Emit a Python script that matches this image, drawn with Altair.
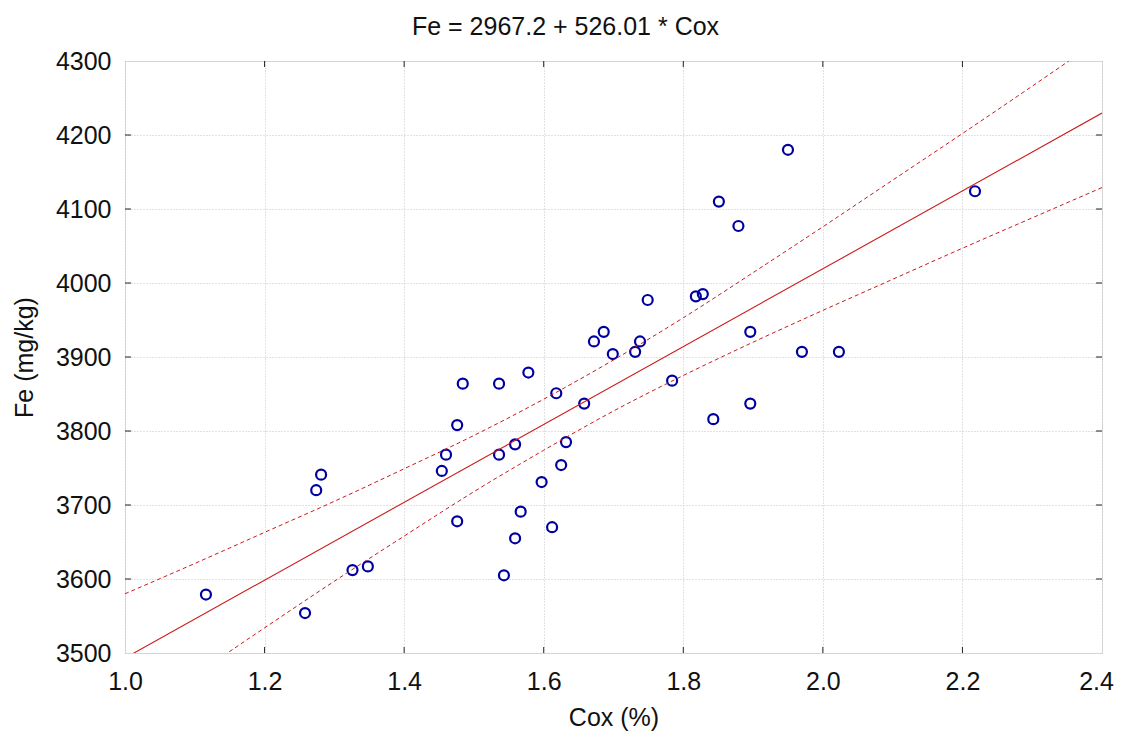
import altair as alt
import pandas as pd

cox = [1.116, 1.258, 1.274, 1.281, 1.326, 1.348, 1.454, 1.460, 1.476, 1.476,
       1.484, 1.536, 1.536, 1.543, 1.559, 1.559, 1.567, 1.578, 1.597, 1.612,
       1.618, 1.658, 1.784, 1.843, 1.896, 1.632, 1.625, 1.950, 1.851, 1.879,
       2.218, 1.818, 1.828, 1.749, 1.672, 1.686, 1.699, 1.731, 1.738, 1.896,
       1.970, 2.023]
fe = [3579, 3554, 3720, 3741, 3612, 3617, 3746, 3768, 3808, 3678,
      3864, 3864, 3768, 3605, 3782, 3655, 3691, 3879, 3731, 3670,
      3851, 3837, 3868, 3816, 3837, 3785, 3754, 4180, 4110, 4077,
      4124, 3982, 3985, 3977, 3921, 3934, 3904, 3907, 3921, 3934,
      3907, 3907]

# Regression line (from the title equation)
intercept = 2967.2
slope = 526.01
fit_x = [1.0, 2.4]

# 95% confidence band
band_x = [1.0, 1.1, 1.2, 1.3, 1.4, 1.5, 1.6, 1.7, 1.8, 1.9, 2.0, 2.1, 2.2, 2.3, 2.4]
band_upper = [3580, 3621, 3663, 3705, 3749, 3794, 3843, 3896, 3953, 4014, 4076, 4139, 4202, 4266, 4331]
band_lower = [3406, 3470, 3534, 3597, 3658, 3718, 3774, 3827, 3875, 3920, 3963, 4005, 4047, 4088, 4129]

x_ticks = [1.0, 1.2, 1.4, 1.6, 1.8, 2.0, 2.2, 2.4]
y_ticks = [3500, 3600, 3700, 3800, 3900, 4000, 4100, 4200, 4300]
x_inner = [1.2, 1.4, 1.6, 1.8, 2.0, 2.2]
y_inner = [3600, 3700, 3800, 3900, 4000, 4100, 4200]

W, H = 977, 592
FONT = "Liberation Sans"
FS = 25

pts = pd.DataFrame({"x": cox, "y": fe})
fit = pd.DataFrame({"x": fit_x, "y": [intercept + slope * v for v in fit_x]})
band = pd.DataFrame({"x": band_x, "up": band_upper, "lo": band_lower})
xt = pd.DataFrame({"x": x_inner})
yt = pd.DataFrame({"y": y_inner})

xs = alt.Scale(domain=[1.0, 2.4], nice=False, zero=False)
ys = alt.Scale(domain=[3500, 4300], nice=False, zero=False)

GRID = "#c4c4c4"
x_axis = alt.Axis(values=x_ticks, format=".1f", title="Cox (%)", grid=True,
                  gridDash=[1, 2], gridColor=GRID, gridWidth=1,
                  domain=False, ticks=False, labelPadding=16, labelFlush=False,
                  labelOffset={"condition": {"test": "datum.value > 2.35", "value": -6}, "value": 0},
                  labelFont=FONT, labelFontSize=FS, labelColor="#111",
                  titleFont=FONT, titleFontSize=FS, titleFontWeight="normal",
                  titleColor="#111", titleY=72, titleBaseline="alphabetic")
y_axis = alt.Axis(values=y_ticks, format="d", title="Fe (mg/kg)", grid=True,
                  gridDash=[1, 2], gridColor=GRID, gridWidth=1,
                  domain=False, ticks=False, labelPadding=14, labelFlush=False,
                  labelFont=FONT, labelFontSize=FS, labelColor="#111",
                  titleFont=FONT, titleFontSize=FS, titleFontWeight="normal",
                  titleColor="#111", titleX=-93, titleY=H / 2,
                  titleBaseline="alphabetic", titleAlign="center", titleAngle=270)

X = alt.X("x:Q", scale=xs, axis=x_axis)
Y = alt.Y("y:Q", scale=ys, axis=y_axis)

points = alt.Chart(pts).mark_point(
    shape="circle", size=100, strokeWidth=2.2, color="#0000a0", opacity=1,
    filled=False, clip=True
).encode(x=X, y=Y)

RED = "#cc1a1a"
line = alt.Chart(fit).mark_line(color=RED, strokeWidth=1.1, clip=True).encode(x=X, y=Y)

upper = alt.Chart(band).mark_line(color=RED, strokeWidth=1, strokeDash=[4, 3],
                                  interpolate="monotone", clip=True).encode(
    x=X, y=alt.Y("up:Q", scale=ys, axis=y_axis))
lower = alt.Chart(band).mark_line(color=RED, strokeWidth=1, strokeDash=[4, 3],
                                  interpolate="monotone", clip=True).encode(
    x=X, y=alt.Y("lo:Q", scale=ys, axis=y_axis))

tick_col = "#222"
top_t = alt.Chart(xt).mark_rule(color=tick_col, strokeWidth=1).encode(
    x=X, y=alt.value(0), y2=alt.value(6))
bot_t = alt.Chart(xt).mark_rule(color=tick_col, strokeWidth=1).encode(
    x=X, y=alt.value(H), y2=alt.value(H - 6))
left_t = alt.Chart(yt).mark_rule(color=tick_col, strokeWidth=1).encode(
    y=Y, x=alt.value(0), x2=alt.value(6))
right_t = alt.Chart(yt).mark_rule(color=tick_col, strokeWidth=1).encode(
    y=Y, x=alt.value(W), x2=alt.value(W - 6))

chart = alt.layer(points, line, upper, lower, top_t, bot_t, left_t, right_t).properties(
    width=W, height=H,
    autosize=alt.AutoSizeParams(type="none"),
    padding={"left": 117, "top": 53, "right": 13, "bottom": 79},
    title=alt.TitleParams("Fe = 2967.2 + 526.01 * Cox", font=FONT, fontSize=FS,
                          fontWeight="normal", color="#111", anchor="middle",
                          frame="group", dx=-48, offset=9),
).configure_view(stroke="#222", strokeWidth=1.2).configure(background="white")

chart.save("out.html", embed_options={"renderer": "svg", "actions": False})
